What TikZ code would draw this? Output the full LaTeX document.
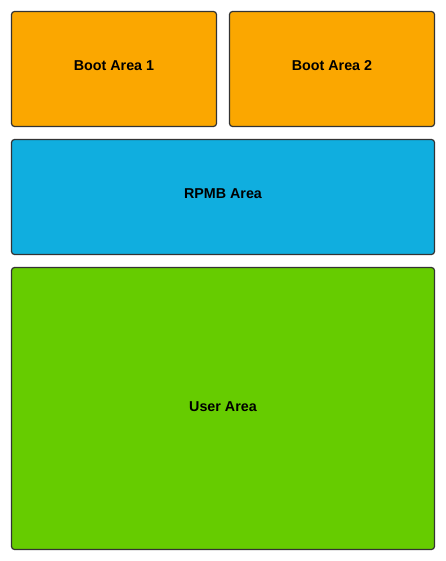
\documentclass[tikz,border=0pt]{standalone}
\usepackage{fontspec}
\setmainfont{Liberation Sans}
\definecolor{bootc}{HTML}{FBA700}
\definecolor{rpmbc}{HTML}{10AEDF}
\definecolor{userc}{HTML}{66CC00}
\definecolor{edgec}{HTML}{333333}
\tikzset{
  area/.style={draw=edgec, line width=1.2pt, rounded corners=3pt},
  arealabel/.style={font=\fontsize{14.3}{16}\selectfont\bfseries, text=black, inner sep=0pt, yshift=3pt},
}
\begin{document}
\begin{tikzpicture}[x=1pt,y=-1pt]
\useasboundingbox (0,0) rectangle (446,561);
\path[area, fill=bootc] (11.5,11.5) rectangle node[arealabel] (boot1) {Boot Area 1} (216.5,126.5);
\path[area, fill=bootc] (229.5,11.5) rectangle node[arealabel] (boot2) {Boot Area 2} (434.5,126.5);
\path[area, fill=rpmbc] (11.5,139.5) rectangle node[arealabel] (rpmb) {RPMB Area} (434.5,254.5);
\path[area, fill=userc] (11.5,267.5) rectangle node[arealabel, yshift=-1pt] (user) {User Area} (434.5,549.5);
\end{tikzpicture}
\end{document}
